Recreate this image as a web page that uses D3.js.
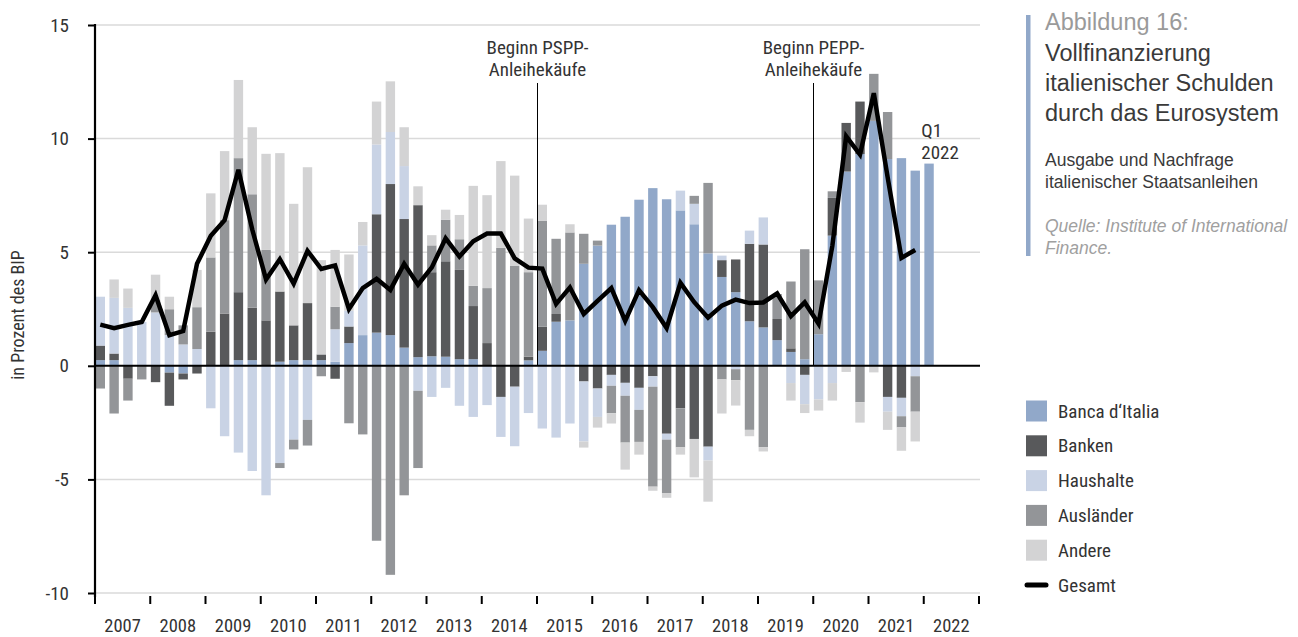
<!DOCTYPE html>
<html><head><meta charset="utf-8">
<script src="https://cdn.jsdelivr.net/npm/d3@7"></script>
<style>
body{margin:0;background:#fff;}
svg{display:block;}
.cond{font-family:"Liberation Sans Narrow","Arial Narrow","Roboto Condensed",sans-serif;fill:#333;}
.reg{font-family:"Liberation Sans",Arial,Helvetica,sans-serif;}
</style>
</head><body>
<svg id="c" width="1298" height="637"></svg>
<script>
// ---------- data ----------
const years = d3.range(2007, 2023);
const quarters = years.flatMap(y => [1,2,3,4].map(q => y + "Q" + q));
const barQuarters = quarters.slice(0, 61); // 2007Q1 .. 2022Q1

const bancaDItalia = [0.25,0.25,0,0,0,-0.3,-0.34,0,0,0,0.25,0.25,0,0.18,0.25,0.25,0.25,0.18,1.0,1.35,1.46,1.35,0.8,0.38,0.42,0.4,0.29,0.29,0,0,0,0.24,0.66,1.94,2.0,4.49,5.29,6.21,6.56,7.31,7.82,7.33,6.84,6.23,4.95,3.91,3.24,1.96,1.69,1.13,0.61,0.29,1.39,5.73,8.55,9.32,10.78,9.1,9.14,8.59,8.9];
const banken = [0.64,0.29,-0.57,0,-0.72,-1.46,-0.26,-0.34,1.5,2.3,2.99,2.31,2.0,3.09,1.53,2.51,0.25,-0.57,0.73,0,5.21,6.65,5.66,6.69,3.7,4.2,3.93,2.34,1.0,-1.37,-0.92,0.16,1.06,0.34,0,-0.69,-1.0,-0.4,-0.75,-0.97,-0.46,-2.99,-1.87,-3.22,-3.56,0.74,1.44,3.41,3.65,0.93,0.16,-0.4,0,1.66,2.14,2.31,0,-1.37,-1.41,0,0];
const haushalte = [2.15,2.45,2.55,1.93,2.35,1.35,0.94,0.74,-1.87,-3.1,-3.82,-4.63,-5.7,-4.28,-3.25,-2.38,0,1.43,0.69,3.95,3.07,2.29,2.33,-1.1,-1.37,-0.97,-1.76,-2.25,-1.73,-1.76,-2.62,-2.08,-2.76,-3.16,-2.54,-2.64,-1.25,-0.48,-0.57,-0.97,-0.46,-0.26,0.87,0.9,-0.61,0.2,-0.15,0.58,1.19,0,-0.76,-1.29,-1.48,-0.76,0,0,0,-0.65,-0.81,-0.46,0];
const auslaender = [-1.0,-2.1,-0.96,-0.6,0.54,1.14,0.84,1.84,3.27,4.11,5.9,4.99,3.1,-0.22,-0.43,-1.13,-0.46,0.99,-2.53,-3.02,-7.7,-9.2,-5.7,-3.4,1.18,1.83,1.35,0.89,2.42,5.19,4.41,3.72,4.67,3.31,3.87,1.32,0.22,-1.21,-2.06,-1.41,-4.4,-2.35,-1.72,0.35,3.1,-0.6,-0.49,-2.82,-3.58,1.1,2.94,4.84,2.37,0.29,0,-1.6,2.07,2.07,-0.49,-1.56,0];
const andere = [0,0.81,0.85,0,1.12,0.55,0,1.64,2.82,3.04,3.44,2.95,4.23,6.09,5.35,5.98,4.15,2.5,2.48,1.03,1.89,2.23,1.71,0.83,0.45,0.44,1.07,4.4,4.09,3.82,3.96,2.36,0.7,0,0.36,-0.27,-0.47,-0.45,-1.19,-0.56,-0.18,-0.21,-0.32,-1.69,-1.81,-1.5,-1.11,-0.28,-0.19,0,-0.77,-0.39,-0.49,-0.77,-0.27,-0.9,-0.29,-0.8,-1.03,-1.31,0];
const gesamt = [1.81,1.66,1.8,1.93,3.11,1.35,1.53,4.49,5.72,6.41,8.63,6.0,3.8,4.69,3.62,5.06,4.26,4.42,2.5,3.42,3.83,3.34,4.49,3.57,4.33,5.61,4.81,5.48,5.82,5.82,4.73,4.32,4.28,2.72,3.45,2.28,2.86,3.42,1.98,3.33,2.58,1.66,3.65,2.8,2.12,2.65,2.91,2.76,2.79,3.19,2.19,2.79,1.85,5.29,10.1,9.3,12.0,8.3,4.75,5.1,null];

const seriesNames = ["Banca d‘Italia","Banken","Haushalte","Ausländer","Andere"];
const seriesColors = ["#91a8c9","#58595b","#c9d3e5","#939598","#d3d3d4"];
const lineName = "Gesamt";
const yTicks = [-10,-5,0,5,10,15];
const yTitle = "in Prozent des BIP";
const annotations = [
  {year: 2015, lines: ["Beginn PSPP-","Anleihekäufe"]},
  {year: 2020, lines: ["Beginn PEPP-","Anleihekäufe"]}
];
const lastLabel = ["Q1","2022"];
const titleSmall = "Abbildung 16:";
const titleLines = ["Vollfinanzierung","italienischer Schulden","durch das Eurosystem"];
const subtitleLines = ["Ausgabe und Nachfrage","italienischer Staatsanleihen"];
const sourceLines = ["Quelle: Institute of International","Finance."];

// ---------- build ----------
const rows = barQuarters.map((q,i) => ({
  q,
  [seriesNames[0]]: bancaDItalia[i],
  [seriesNames[1]]: banken[i],
  [seriesNames[2]]: haushalte[i],
  [seriesNames[3]]: auslaender[i],
  [seriesNames[4]]: andere[i],
  total: gesamt[i]
}));

const svg = d3.select("#c");
const L = 95, R = 979, T = 25, B = 593;

const xYear = d3.scaleLinear().domain([2007, 2023]).range([L, R]);
const x = d3.scaleBand().domain(quarters).range([L - 1.6, R - 1.6]).paddingInner(0.32).paddingOuter(0.16);
const y = d3.scaleLinear().domain([-10, 15]).range([B, T]);
const color = d3.scaleOrdinal().domain(seriesNames).range(seriesColors);

// grid
svg.append("g").selectAll("line").data(yTicks.filter(t => t !== 0)).join("line")
  .attr("x1", L).attr("x2", R + 1).attr("y1", d => y(d)).attr("y2", d => y(d))
  .attr("stroke", "#dadada").attr("stroke-width", 1.5);

// bars
const stack = d3.stack().keys(seriesNames).offset(d3.stackOffsetDiverging);
const layers = stack(rows);
svg.append("g").selectAll("g").data(layers).join("g")
  .attr("fill", d => color(d.key))
  .selectAll("rect").data(d => d).join("rect")
  .attr("x", d => x(d.data.q))
  .attr("width", x.bandwidth())
  .attr("y", d => y(Math.max(d[0], d[1])))
  .attr("height", d => Math.abs(y(d[0]) - y(d[1])));

// zero line
svg.append("line").attr("x1", L).attr("x2", R + 1).attr("y1", y(0)).attr("y2", y(0))
  .attr("stroke", "#000").attr("stroke-width", 2);

// annotation lines
annotations.forEach(a => {
  const ax = Math.round(xYear(a.year)) + 0.5;
  svg.append("line").attr("x1", ax).attr("x2", ax).attr("y1", 83).attr("y2", y(0))
    .attr("stroke", "#000").attr("stroke-width", 1);
  const t = svg.append("text").attr("class", "cond").attr("text-anchor", "middle")
    .attr("font-size", 19);
  a.lines.forEach((s, i) => t.append("tspan").attr("x", ax).attr("y", 54 + i * 22).text(s));
});

// total line
const line = d3.line()
  .defined(d => d.total != null)
  .x(d => x(d.q) + x.bandwidth() / 2)
  .y(d => y(d.total));
svg.append("path").datum(rows).attr("d", line)
  .attr("fill", "none").attr("stroke", "#000").attr("stroke-width", 4.5)
  .attr("stroke-linejoin", "miter").attr("stroke-linecap", "butt");

// Q1 2022 label
const lq = svg.append("text").attr("class", "cond").attr("font-size", 19);
lastLabel.forEach((s, i) => lq.append("tspan").attr("x", x("2022Q1") - 3).attr("y", 137 + i * 22).text(s));

// y axis
const yAxis = d3.axisLeft(y).tickValues(yTicks).tickSize(7).tickPadding(19)
  .tickFormat(d => String(d));
const gy = svg.append("g").attr("transform", `translate(${L},0)`).call(yAxis);
gy.select(".domain").remove();
gy.selectAll(".tick line").attr("stroke", "#000").attr("stroke-width", 2);
gy.selectAll(".tick text").attr("class", "cond").attr("font-size", 19).attr("fill", "#333");
svg.append("line").attr("x1", L).attr("x2", L).attr("y1", T - 1).attr("y2", B + 4)
  .attr("stroke", "#000").attr("stroke-width", 2.2);

// x axis ticks & labels
const gx = svg.append("g");
gx.selectAll("line").data(years.concat([2023])).join("line")
  .attr("x1", d => xYear(d)).attr("x2", d => xYear(d)).attr("y1", B + 3).attr("y2", B + 11)
  .attr("stroke", "#000").attr("stroke-width", 2);
gx.selectAll("text").data(years).join("text").attr("class", "cond")
  .attr("x", d => xYear(d + 0.5)).attr("y", 632).attr("text-anchor", "middle")
  .attr("font-size", 18.5).text(d => d);

// y title
svg.append("text").attr("class", "cond").attr("font-size", 18)
  .attr("transform", `translate(24,315) rotate(-90)`).attr("text-anchor", "middle").text(yTitle);

// title block
svg.append("rect").attr("x", 1026).attr("y", 15).attr("width", 4.5).attr("height", 241).attr("fill", seriesColors[0]);
svg.append("text").attr("class", "reg").attr("x", 1045).attr("y", 30).attr("font-size", 23.5)
  .attr("fill", "#9a9a9a").text(titleSmall);
titleLines.forEach((s, i) => svg.append("text").attr("class", "reg").attr("x", 1045).attr("y", 61 + i * 30)
  .attr("font-size", 23.5).attr("fill", "#3a3a3a").text(s));
subtitleLines.forEach((s, i) => svg.append("text").attr("class", "reg").attr("x", 1045).attr("y", 166 + i * 22)
  .attr("font-size", 17.5).attr("fill", "#3a3a3a").text(s));
sourceLines.forEach((s, i) => svg.append("text").attr("class", "reg").attr("x", 1045).attr("y", 232 + i * 22)
  .attr("font-size", 17.5).attr("font-style", "italic").attr("fill", "#a0a0a0").text(s));

// legend
const lg = svg.append("g");
seriesNames.forEach((s, i) => {
  const cy = 411 + i * 34.8;
  lg.append("rect").attr("x", 1026).attr("y", cy - 10.5).attr("width", 21).attr("height", 21).attr("fill", color(s));
  lg.append("text").attr("class", "cond").attr("x", 1058).attr("y", cy).attr("dy", "0.35em").attr("font-size", 19).text(s);
});
{
  const cy = 411 + 5 * 34.8;
  lg.append("line").attr("x1", 1027).attr("x2", 1046).attr("y1", cy).attr("y2", cy)
    .attr("stroke", "#000").attr("stroke-width", 5).attr("stroke-linecap", "round");
  lg.append("text").attr("class", "cond").attr("x", 1058).attr("y", cy).attr("dy", "0.35em").attr("font-size", 19).text(lineName);
}
</script>
</body></html>
